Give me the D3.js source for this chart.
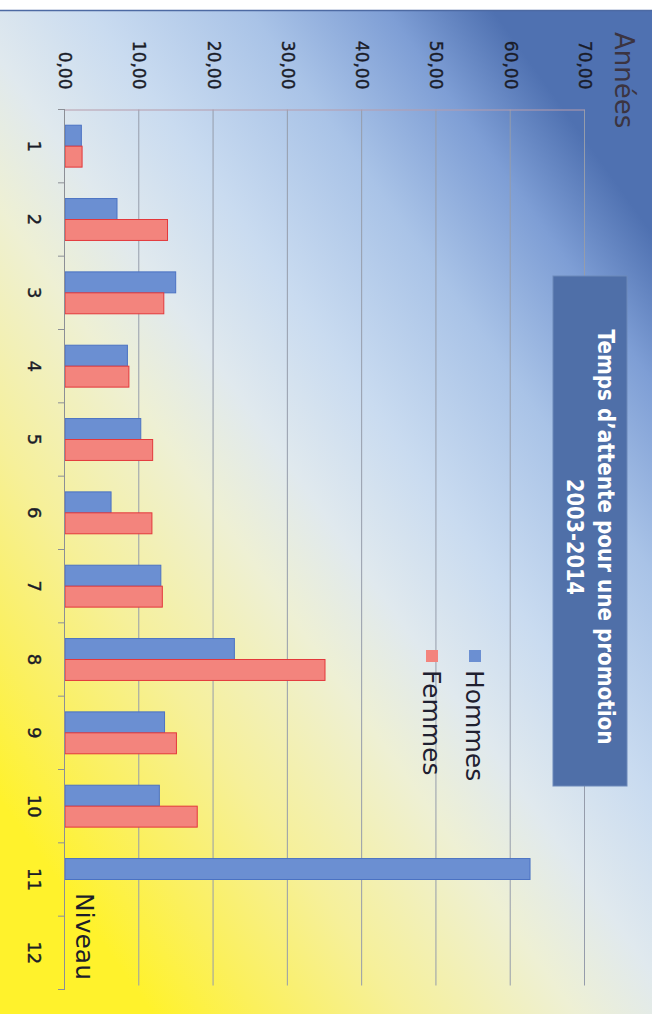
<!DOCTYPE html>
<html>
<head>
<meta charset="utf-8">
<script src="https://cdn.jsdelivr.net/npm/d3@7/dist/d3.min.js"></script>
<style>
	html, body { margin: 0; padding: 0; background: #fff; }
	svg { display: block; }
	text { font-family: 'DejaVu Sans', sans-serif; }
</style>
</head>
<body>
<div class="graphic__container"></div>
<script>
// chart values (original chart is turned 90deg clockwise)
const categories = ['1', '2', '3', '4', '5', '6', '7', '8', '9', '10', '11', '12']
const seriesNames = ['Hommes', 'Femmes']
const hommes = [2.2, 7.0, 14.9, 8.4, 10.2, 6.2, 12.9, 22.8, 13.4, 12.7, 62.6, 0]
const femmes = [2.3, 13.8, 13.3, 8.6, 11.8, 11.7, 13.1, 35.0, 15.0, 17.8, 0, 0]
const valueTicks = [0, 10, 20, 30, 40, 50, 60, 70]
const titleLines = ['Temps d\u2019attente pour une promotion', '2003-2014']

const seriesColors = { Hommes: '#6b8fd2', Femmes: '#f3847d' }
const seriesStroke = { Hommes: '#4b72c3', Femmes: '#e3383b' }

const pageW = 662
const pageH = 1014

// sizes in the un-rotated frame (width runs down the page)
const plot = { left: 109.5, right: 989.5, top: 77, bottom: 597 }
const titleLen = [415, 116]

const frFormat = d3.formatLocale({ decimal: ',', thousands: ' ', grouping: [3], currency: ['', ' \u20ac'] }).format('.2f')

const containerSel = d3.select('.graphic__container')

function drawBackground(svg) {
	const defs = svg.append('defs')
	const grad = defs.append('linearGradient')
		.attr('id', 'bg')
		.attr('gradientUnits', 'userSpaceOnUse')
		.attr('x1', 700).attr('y1', 300)
		.attr('x2', 0).attr('y2', 800)

	const stops = [
		[0, '#4f71b1'], [0.1, '#7e9ed5'], [0.23, '#a9c3e7'], [0.38, '#c9dbf0'],
		[0.5, '#e0e9ee'], [0.6, '#eef0d4'], [0.76, '#f6f09a'], [0.9, '#fbf05c'], [1, '#fff22c']
	]
	grad.selectAll('stop')
		.data(stops)
		.enter().append('stop')
		.attr('offset', d => d[0])
		.attr('stop-color', d => d[1])

	svg.append('rect')
		.attr('x', 0)
		.attr('y', 10)
		.attr('width', 652)
		.attr('height', pageH - 10)
		.attr('fill', 'url(#bg)')

	svg.append('line')
		.attr('x1', 0).attr('x2', 652)
		.attr('y1', 10.5).attr('y2', 10.5)
		.attr('stroke', '#4d6aa3')
		.attr('stroke-width', 1.5)
}

function drawChart() {
	const svg = containerSel.append('svg')
		.attr('width', pageW)
		.attr('height', pageH)

	drawBackground(svg)

	// everything below is drawn upright, then turned a quarter clockwise
	const g = svg.append('g')
		.attr('transform', `translate(${pageW}, 0) rotate(90)`)

	const scaleX0 = d3.scaleBand()
		.domain(categories)
		.range([plot.left, plot.right])
		.padding(0)

	// excel style cluster: gap width 150%
	const barW = scaleX0.bandwidth() / 3.5
	const scaleX1 = d3.scaleBand()
		.domain(seriesNames)
		.range([barW * 0.75, barW * 2.75])
		.padding(0)

	const scaleY = d3.scaleLinear()
		.domain([0, 70])
		.range([plot.bottom, plot.top])

	// gridlines
	g.append('g')
		.attr('class', 'grid')
		.selectAll('line')
		.data(valueTicks.slice(1))
		.enter().append('line')
		.attr('x1', plot.left)
		.attr('x2', plot.right - 4)
		.attr('y1', d => scaleY(d) + 0.5)
		.attr('y2', d => scaleY(d) + 0.5)
		.attr('stroke', '#959cab')
		.attr('stroke-width', 1)

	// value axis
	const yAxis = d3.axisLeft(scaleY)
		.tickValues(valueTicks)
		.tickSize(0)
		.tickPadding(20)
		.tickFormat(frFormat)

	const yAxisG = g.append('g')
		.attr('transform', `translate(${plot.left}, 0)`)
		.call(yAxis)
	yAxisG.select('.domain')
		.attr('stroke', '#b79cab')
		.attr('stroke-width', 1)
	yAxisG.selectAll('text')
		.attr('font-size', 17)
		.attr('font-family', "'DejaVu Sans', sans-serif")
		.attr('fill', '#1a1c28')
		.attr('stroke', '#1a1c28')
		.attr('stroke-width', 0.4)

	// bars
	const rows = categories.map((c, i) => ({ cat: c, Hommes: hommes[i], Femmes: femmes[i] }))

	const groups = g.append('g')
		.attr('class', 'bars')
		.selectAll('g')
		.data(rows)
		.enter().append('g')
		.attr('transform', d => `translate(${scaleX0(d.cat)}, 0)`)

	groups.selectAll('rect')
		.data(d => seriesNames.map(s => ({ key: s, value: d[s] })).filter(e => e.value > 0))
		.enter().append('rect')
		.attr('x', d => scaleX1(d.key))
		.attr('width', scaleX1.bandwidth())
		.attr('y', d => scaleY(d.value))
		.attr('height', d => scaleY(0) - scaleY(d.value))
		.attr('fill', d => seriesColors[d.key])
		.attr('stroke', d => seriesStroke[d.key])
		.attr('stroke-width', 1)

	// category axis
	const xAxis = d3.axisBottom(scaleX0)
		.tickSize(0)
		.tickPadding(24)

	const xAxisG = g.append('g')
		.attr('transform', `translate(0, ${plot.bottom})`)
		.call(xAxis)
	xAxisG.select('.domain')
		.attr('stroke', '#8c8f96')
	xAxisG.selectAll('text')
		.attr('font-size', 18)
		.attr('font-family', "'DejaVu Sans', sans-serif")
		.attr('fill', '#1a1c28')
		.attr('stroke', '#1a1c28')
		.attr('stroke-width', 0.4)

	// tick marks between categories
	xAxisG.append('g')
		.selectAll('line')
		.data(categories.concat(['end']))
		.enter().append('line')
		.attr('x1', (d, i) => plot.left + i * scaleX0.step())
		.attr('x2', (d, i) => plot.left + i * scaleX0.step())
		.attr('y1', 0)
		.attr('y2', 7)
		.attr('stroke', '#8c8f96')

	// axis titles
	g.append('text')
		.attr('x', 32)
		.attr('y', 47)
		.attr('font-size', 26)
		.attr('fill', '#3b3441')
		.text('Ann\u00e9es')

	g.append('text')
		.attr('x', 893)
		.attr('y', 586)
		.attr('font-size', 25)
		.attr('fill', '#1c1d2a')
		.text('Niveau')

	// title box
	const titleG = g.append('g').attr('class', 'title')
	titleG.append('rect')
		.attr('x', 276)
		.attr('y', 35)
		.attr('width', 510)
		.attr('height', 74)
		.attr('fill', '#4f6fa8')
		.attr('stroke', '#6d89b9')

	titleG.selectAll('text')
		.data(titleLines)
		.enter().append('text')
		.attr('x', 537)
		.attr('y', (d, i) => 64 + i * 31)
		.attr('text-anchor', 'middle')
		.attr('font-family', "'Liberation Sans', Arial, sans-serif")
		.attr('font-weight', 'bold')
		.attr('font-size', 23)
		.attr('textLength', (d, i) => titleLen[i])
		.attr('lengthAdjust', 'spacingAndGlyphs')
		.attr('fill', '#ffffff')
		.text(d => d)

	// legend
	const legend = g.append('g')
		.attr('class', 'legend')
		.selectAll('g')
		.data(seriesNames)
		.enter().append('g')
		.attr('transform', (d, i) => `translate(650, ${181 + i * 43})`)

	legend.append('rect')
		.attr('width', 12)
		.attr('height', 12)
		.attr('fill', d => seriesColors[d])

	legend.append('text')
		.attr('x', 20)
		.attr('y', 15)
		.attr('font-size', 25)
		.attr('fill', '#1f2030')
		.text(d => d)
}

drawChart()
</script>
</body>
</html>
